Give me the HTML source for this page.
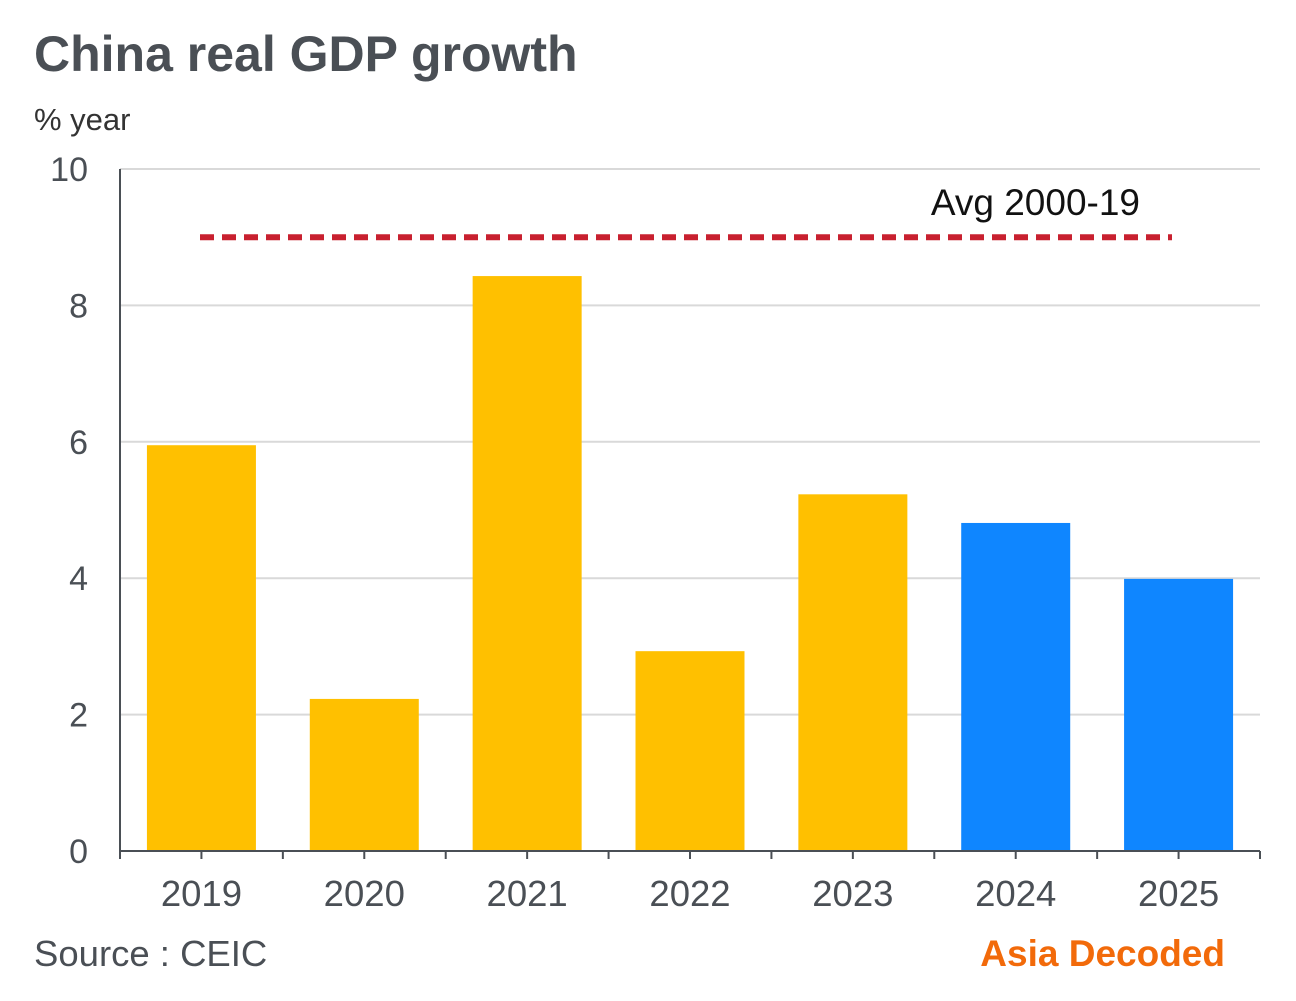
<!DOCTYPE html>
<html><head><meta charset="utf-8"><style>
body{margin:0;background:#fff;width:1296px;height:996px;overflow:hidden;font-family:"Liberation Sans",sans-serif}
</style></head><body>
<svg id="c" width="1296" height="996" xmlns="http://www.w3.org/2000/svg">
<text x="34" y="71" font-size="50" font-weight="bold" fill="#4a4f55">China real GDP growth</text>
<text x="34" y="130" font-size="31" fill="#333">% year</text>
<text x="34" y="966" font-size="36.5" fill="#4a4f55">Source : CEIC</text>
<text x="1225" y="966" font-size="37" font-weight="bold" fill="#f26a0a" text-anchor="end">Asia Decoded</text>
<g id="g"></g>
</svg>
<script>
const categories=["2019","2020","2021","2022","2023","2024","2025"];
const growth=[5.95,2.23,8.43,2.93,5.23,4.81,3.99];
const forecast=[false,false,false,false,false,true,true];
const yTicks=[0,2,4,6,8,10];
const avgValue=9.0;
const avgLabel="Avg 2000-19";
const X0=120,X1=1260,Y0=851,Y1=169,YMAX=10;
const y=v=>Y0-(v/YMAX)*(Y0-Y1);
const bw=(X1-X0)/categories.length;
const xc=i=>X0+bw*(i+0.5);
const g=document.getElementById('g');
const NS="http://www.w3.org/2000/svg";
function mk(t,a){const e=document.createElementNS(NS,t);for(const k in a)e.setAttribute(k,a[k]);g.appendChild(e);return e;}
yTicks.forEach(v=>{
 if(v>0){const l=mk('line',{x1:X0,x2:X1,y1:y(v),y2:y(v),stroke:'#d9d9d9','stroke-width':2});
 
 }
 const t=mk('text',{x:88,y:y(v)+12,'font-size':34,fill:'#4a4f55','text-anchor':'end'});t.textContent=v;
 
 
});
categories.forEach((c,i)=>{
 const r=mk('rect',{x:xc(i)-54.5,y:y(growth[i]),width:109,height:Y0-y(growth[i]),fill:forecast[i]?'#0f86ff':'#ffc000'});
 
 
 const t=mk('text',{x:xc(i),y:906,'font-size':36.5,fill:'#4a4f55','text-anchor':'middle'});t.textContent=c;
 
 
});
for(let k=0;k<=categories.length*2;k++){const x=X0+bw*k/2;mk('line',{x1:x,x2:x,y1:Y0,y2:Y0+8,stroke:'#4a4f55','stroke-width':2});}
const ya=mk('line',{x1:X0,x2:X0,y1:Y1,y2:Y0,stroke:'#4a4f55','stroke-width':2});


const xa=mk('line',{x1:X0,x2:X1,y1:Y0,y2:Y0,stroke:'#4a4f55','stroke-width':2});


const al=mk('line',{x1:200,x2:1172,y1:y(avgValue),y2:y(avgValue),stroke:'#c8202f','stroke-width':6,'stroke-dasharray':'14 8'});


const at=mk('text',{x:1140,y:y(avgValue)-22,'font-size':37,fill:'#111','text-anchor':'end'});at.textContent=avgLabel;


</script>
</body></html>
